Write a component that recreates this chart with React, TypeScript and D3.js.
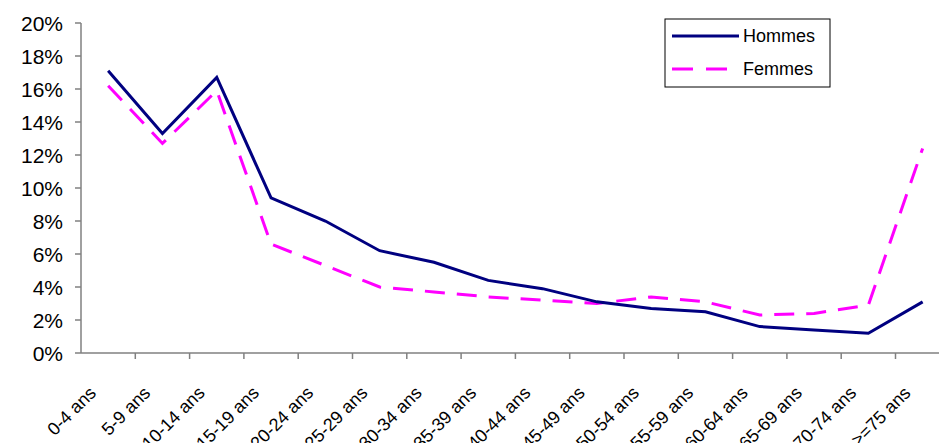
import React from "react";
import * as d3 from "d3";

const categories = ["0-4 ans","5-9 ans","10-14 ans","15-19 ans","20-24 ans","25-29 ans","30-34 ans","35-39 ans","40-44 ans","45-49 ans","50-54 ans","55-59 ans","60-64 ans","65-69 ans","70-74 ans",">=75 ans"];
const hommes = [17.1,13.3,16.7,9.4,8.0,6.2,5.5,4.4,3.9,3.1,2.7,2.5,1.6,1.4,1.2,3.1];
const femmes = [16.2,12.7,15.9,6.6,5.3,4.0,3.7,3.4,3.2,3.0,3.4,3.1,2.3,2.4,2.9,12.4];
const yTicks = [0,2,4,6,8,10,12,14,16,18,20];
const seriesNames = ["Hommes","Femmes"];

const W = 939, H = 443;
const left = 81, top = 23, bottom = 353;
const band = 54.3;

export default function App() {
  const x = d3.scaleBand().domain(categories).range([left, left + band * categories.length]).padding(0);
  const y = d3.scaleLinear().domain([0, 20]).range([bottom, top]);
  const cx = (c: string) => (x(c) as number) + x.bandwidth() / 2;
  const line = d3.line<number>().x((_, i) => cx(categories[i])).y(v => y(v));
  const font = "'Liberation Sans', Arial, sans-serif";
  const axisColor = "#808080";
  return (
    <svg width={W} height={H} style={{ position: "absolute", left: 0, top: 0, background: "#fff" }} fontFamily={font}>
      {/* y axis */}
      <line x1={left} x2={left} y1={top} y2={bottom} stroke={axisColor} strokeWidth={1.5} />
      {yTicks.map(t => (
        <g key={t}>
          <line x1={left - 6} x2={left} y1={y(t)} y2={y(t)} stroke={axisColor} strokeWidth={1.5} />
          <text x={63} y={y(t)} dy="0.36em" textAnchor="end" fontSize={21} fill="#000">{t}%</text>
        </g>
      ))}
      {/* x axis */}
      <line x1={left} x2={left + band * categories.length} y1={bottom} y2={bottom} stroke={axisColor} strokeWidth={1.5} />
      {categories.map((c, i) => (
        <line key={"t" + i} x1={(x(c) as number) + band} x2={(x(c) as number) + band} y1={bottom} y2={bottom + 6} stroke={axisColor} strokeWidth={1.5} />
      ))}
      {categories.map((c, i) => {
        const ax = cx(c) - 11, ay = 394;
        return (
          <text key={"l" + i} x={ax} y={ay} textAnchor="end" fontSize={18} fill="#000" transform={`rotate(-45 ${ax} ${ay})`}>{c}</text>
        );
      })}
      {/* series */}
      <path d={line(femmes) as string} fill="none" stroke="#FF00FF" strokeWidth={3} strokeDasharray="20 12" />
      <path d={line(hommes) as string} fill="none" stroke="#000080" strokeWidth={3} />
      {/* legend */}
      <rect x={665} y={19} width={165} height={68} fill="#fff" stroke="#000" strokeWidth={1} />
      <line x1={672} x2={739} y1={36} y2={36} stroke="#000080" strokeWidth={3} />
      <text x={743} y={36} dy="0.36em" fontSize={18} fill="#000">{seriesNames[0]}</text>
      <line x1={672} x2={739} y1={69} y2={69} stroke="#FF00FF" strokeWidth={3} strokeDasharray="21 13" />
      <text x={743} y={69} dy="0.36em" fontSize={18} fill="#000">{seriesNames[1]}</text>
    </svg>
  );
}
